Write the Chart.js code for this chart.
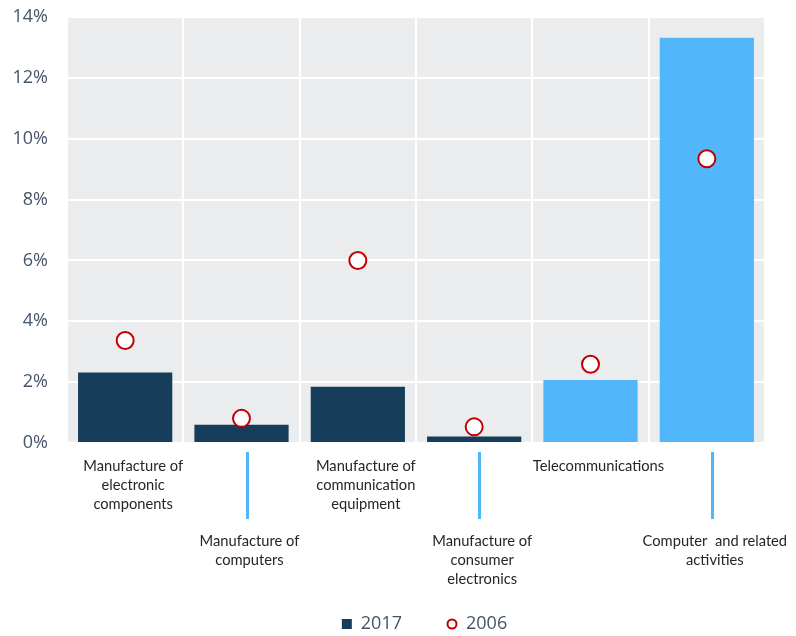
<!DOCTYPE html>
<html>
<head>
<meta charset="utf-8">
<script src="https://cdn.jsdelivr.net/npm/chart.js@4/dist/chart.umd.min.js"></script>
<style>
  body { margin: 0; background: #fff; }
  #wrap { width: 796px; height: 636px; }
</style>
</head>
<body>
<div id="wrap"><canvas id="chart" width="796" height="636"></canvas></div>
<script>
// category labels, one array of lines per category
const categories = [
  ["Manufacture of", "electronic", "components"],
  ["Manufacture of", "computers"],
  ["Manufacture of", "communication", "equipment"],
  ["Manufacture of", "consumer", "electronics"],
  ["Telecommunications"],
  ["Computer  and related", "activities"]
];
// which labels sit on the lower row (with a leader line)
const lowered = [false, true, false, true, false, true];

const values2017 = [2.32, 0.60, 1.85, 0.21, 2.07, 13.32];
const values2006 = [3.37, 0.81, 6.00, 0.53, 2.59, 9.34];
const barColors = ["#163d5a", "#163d5a", "#163d5a", "#163d5a", "#52b6fa", "#52b6fa"];

const yTicks = [0, 2, 4, 6, 8, 10, 12, 14];

const dark = "#163d5a";
const light = "#52b6fa";
const red = "#c00000";
const grey = "#44546a";

// small circle image for the 2006 legend entry
const legendDot = document.createElement("canvas");
legendDot.width = 12;
legendDot.height = 12;
(function () {
  const c = legendDot.getContext("2d");
  c.beginPath();
  c.arc(6, 6, 4.5, 0, Math.PI * 2);
  c.fillStyle = "#fff";
  c.fill();
  c.lineWidth = 2;
  c.strokeStyle = red;
  c.stroke();
})();

const plotBg = {
  id: "plotBg",
  beforeDraw(chart) {
    const a = chart.chartArea;
    const ctx = chart.ctx;
    ctx.save();
    ctx.fillStyle = "#ebecee";
    ctx.fillRect(a.left, a.top, a.right - a.left, a.bottom - a.top);
    ctx.restore();
  }
};

// nudge the legend a bit right and down, like the original
const legendShift = {
  id: "legendShift",
  afterLayout(chart) {
    const lg = chart.legend;
    if (!lg) return;
    lg.left += 42;
    lg.right += 42;
    lg.top += 12;
    lg.bottom += 12;
  }
};

const leaders = {
  id: "leaders",
  afterDraw(chart) {
    const x = chart.scales.x;
    const ctx = chart.ctx;
    const top = chart.chartArea.bottom + 9;
    ctx.save();
    ctx.strokeStyle = light;
    ctx.lineWidth = 3;
    lowered.forEach((low, i) => {
      if (!low) return;
      const px = Math.round(x.getPixelForValue(i)) + 5.5;
      ctx.beginPath();
      ctx.moveTo(px, top);
      ctx.lineTo(px, top + 67);
      ctx.stroke();
    });
    ctx.restore();
  }
};

const labels = categories.map((lines, i) => lowered[i] ? ["", "", "", ""].concat(lines) : lines);

new Chart(document.getElementById("chart"), {
  data: {
    labels: labels,
    datasets: [
      {
        type: "line",
        label: "2006",
        data: values2006,
        showLine: false,
        pointStyle: "circle",
        pointRadius: 8.5,
        pointHoverRadius: 8.5,
        pointBorderWidth: 2,
        pointBorderColor: red,
        pointBackgroundColor: "#ffffff",
        borderColor: red,
        backgroundColor: "#ffffff",
        order: 0
      },
      {
        type: "bar",
        label: "2017",
        data: values2017,
        backgroundColor: barColors,
        borderWidth: 0,
        barPercentage: 0.81,
        categoryPercentage: 1,
        pointStyle: "rect",
        order: 1
      }
    ]
  },
  options: {
    responsive: false,
    animation: false,
    layout: { autoPadding: false, padding: { top: 17, right: 31, left: 0, bottom: 5 } },
    plugins: {
      tooltip: { enabled: false },
      legend: {
        position: "bottom",
        labels: {
          usePointStyle: true,
          boxWidth: 10,
          boxHeight: 10,
          padding: 0,
          color: grey,
          font: { family: "'Open Sans', sans-serif", size: 18 },
          generateLabels(chart) {
            const items = Chart.defaults.plugins.legend.labels.generateLabels(chart);
            items.sort((a, b) => b.datasetIndex - a.datasetIndex);
            items.forEach(it => {
              if (it.datasetIndex === 1) {
                it.fillStyle = dark;
                it.strokeStyle = dark;
                it.lineWidth = 0;
                it.text = "2017\u2003\u2003\u2002";
              } else {
                it.pointStyle = legendDot;
              }
            });
            return items;
          }
        }
      }
    },
    scales: {
      x: {
        grid: { color: "#ffffff", lineWidth: 2, offset: true, drawTicks: false },
        border: { display: false },
        ticks: {
          autoSkip: false,
          maxRotation: 0,
          minRotation: 0,
          padding: 14,
          labelOffset: 8,
          color: "#262626",
          font: { family: "Lato, sans-serif", size: 14.7, lineHeight: 1.28 }
        },
        afterFit(scale) { scale.height = 160; }
      },
      y: {
        min: 0,
        max: 14,
        afterBuildTicks(scale) { scale.ticks = yTicks.map(v => ({ value: v })); },
        grid: { color: "#ffffff", lineWidth: 2, drawTicks: false },
        border: { display: false },
        ticks: {
          padding: 19,
          color: grey,
          font: { family: "'Open Sans', sans-serif", size: 18 },
          callback: v => v + "%"
        },
        afterFit(scale) {
          scale.width = 67;
          scale.paddingTop = 0;
        }
      }
    }
  },
  plugins: [plotBg, leaders, legendShift]
});
</script>
</body>
</html>
